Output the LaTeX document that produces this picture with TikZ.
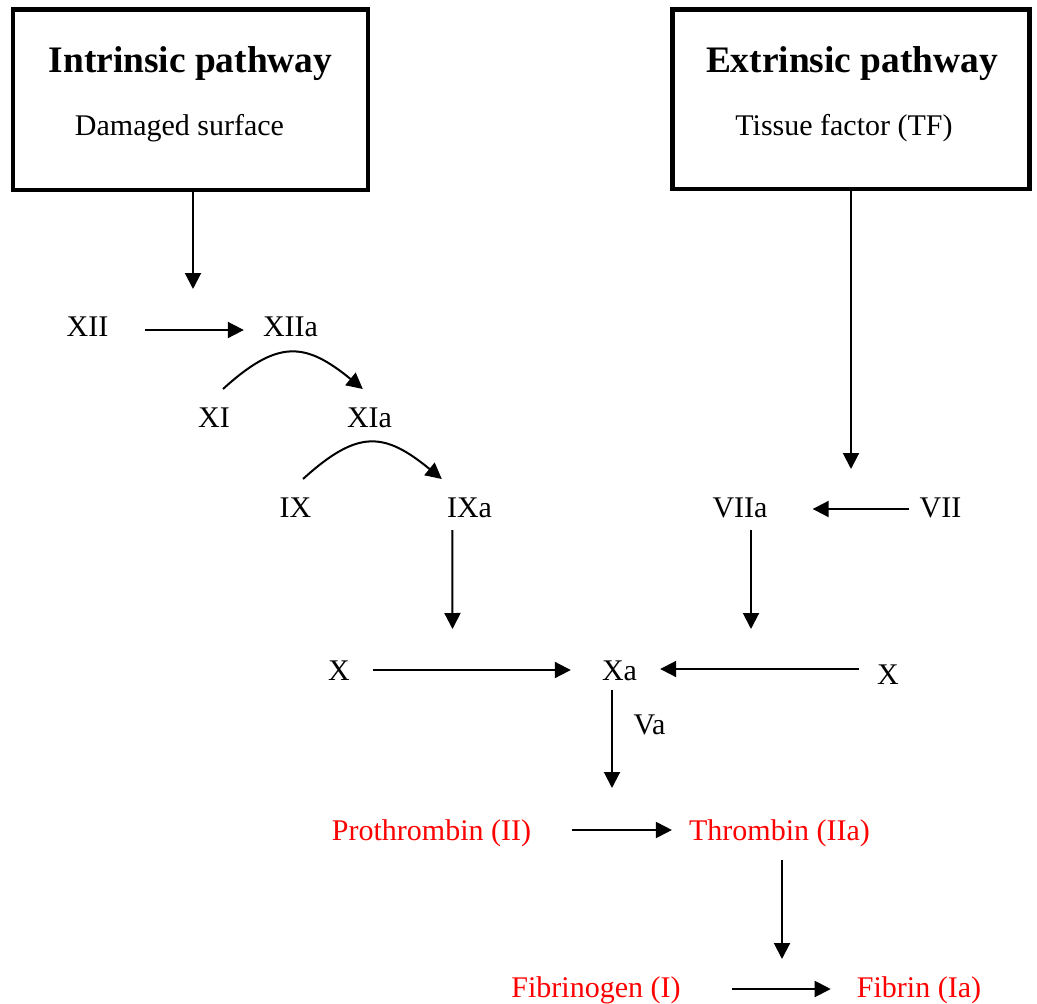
\documentclass[tikz,border=0pt]{standalone}
\usepackage{fontspec}
\setmainfont{Liberation Serif}
\usetikzlibrary{arrows.meta}

\tikzset{
  lbl/.style={font=\fontsize{30}{36}\selectfont, inner sep=0pt, anchor=base},
  redlbl/.style={lbl, text=red},
  heading/.style={font=\fontsize{37.4}{44}\selectfont\bfseries, inner sep=0pt, anchor=base},
  pathbox/.style={draw, line width=4.5pt, rectangle, inner sep=0pt},
  arr/.style={line width=2pt, -{Triangle[length=16pt,width=16pt]}},
}

\begin{document}
\begin{tikzpicture}[x=1pt,y=-1pt]
  \useasboundingbox (0,0) rectangle (1037,1004);

  % pathway boxes
  \node[pathbox, minimum width=355pt, minimum height=180.5pt] (lbox) at (190.5,99.75) {};
  \node[pathbox, minimum width=357pt, minimum height=179.5pt] (rbox) at (851,99) {};
  \node[heading] (ltitle) at (190.5,72) {Intrinsic pathway};
  \node[lbl] (lsub) at (179.5,135) {Damaged surface};
  \node[heading] (rtitle) at (852,72) {Extrinsic pathway};
  \node[lbl] (rsub) at (844,135) {Tissue factor (TF)};

  % factors
  \node[lbl] (XII)  at (87.5,336) {XII};
  \node[lbl] (XIIa) at (290.5,336) {XIIa};
  \node[lbl] (XI)   at (214,427) {XI};
  \node[lbl] (XIa)  at (369.5,427) {XIa};
  \node[lbl] (IX)   at (295.5,517) {IX};
  \node[lbl] (IXa)  at (469.5,517) {IXa};
  \node[lbl] (VIIa) at (740,517) {VIIa};
  \node[lbl] (VII)  at (940.5,517) {VII};
  \node[lbl] (Xl)   at (339,680) {X};
  \node[lbl] (Xa)   at (619.5,680) {Xa};
  \node[lbl] (Xr)   at (888,684) {X};
  \node[lbl] (Va)   at (649.5,734) {Va};
  \node[redlbl] (pro) at (431.5,840) {Prothrombin (II)};
  \node[redlbl] (thr) at (779.5,840) {Thrombin (IIa)};
  \node[redlbl] (fbg) at (596,997) {Fibrinogen (I)};
  \node[redlbl] (fbn) at (919,997) {Fibrin (Ia)};

  % free arrow ends
  \coordinate (lend)   at (193,289);
  \coordinate (rend)   at (851,469);
  \coordinate (ixend)  at (452.5,629);
  \coordinate (viiend) at (751,629);
  \coordinate (xaend)  at (612,788);
  \coordinate (thrend) at (782,959);

  % connectors
  \draw[arr] ([shift={(2.5,0)}]lbox.south) -- (lend);
  \draw[arr] (rbox.south) -- (rend);
  \draw[arr] ([shift={(36.7,-6)}]XII.base east) -- ([shift={(-19,-6)}]XIIa.base west);
  \draw[arr] ([shift={(9,-38)}]XI.base) .. controls +(55,-50) and +(-57.5,-47) .. ([shift={(16,-38)}]XIa.base west);
  \draw[arr] ([shift={(7.5,-38)}]IX.base) .. controls +(55,-50) and +(-57.5,-47) .. ([shift={(-5,-38)}]IXa.base west);
  \draw[arr] ([shift={(5.5,13)}]IXa.base west) -- (ixend);
  \draw[arr] ([shift={(-10,-8)}]VII.base west) -- ([shift={(45,-8)}]VIIa.base east);
  \draw[arr] ([shift={(11,13)}]VIIa.base) -- (viiend);
  \draw[arr] ([shift={(23,-10)}]Xl.base east) -- ([shift={(-31,-10)}]Xa.base west);
  \draw[arr] ([shift={(-18,-15)}]Xr.base west) -- ([shift={(23,-11)}]Xa.base east);
  \draw[arr] ([shift={(-7.5,10)}]Xa.base) -- (xaend);
  \draw[arr] ([shift={(41,-10)}]pro.base east) -- ([shift={(-17,-10)}]thr.base west);
  \draw[arr] ([shift={(2.5,20)}]thr.base) -- (thrend);
  \draw[arr] ([shift={(51,-8)}]fbg.base east) -- ([shift={(-26,-8)}]fbn.base west);
\end{tikzpicture}
\end{document}
